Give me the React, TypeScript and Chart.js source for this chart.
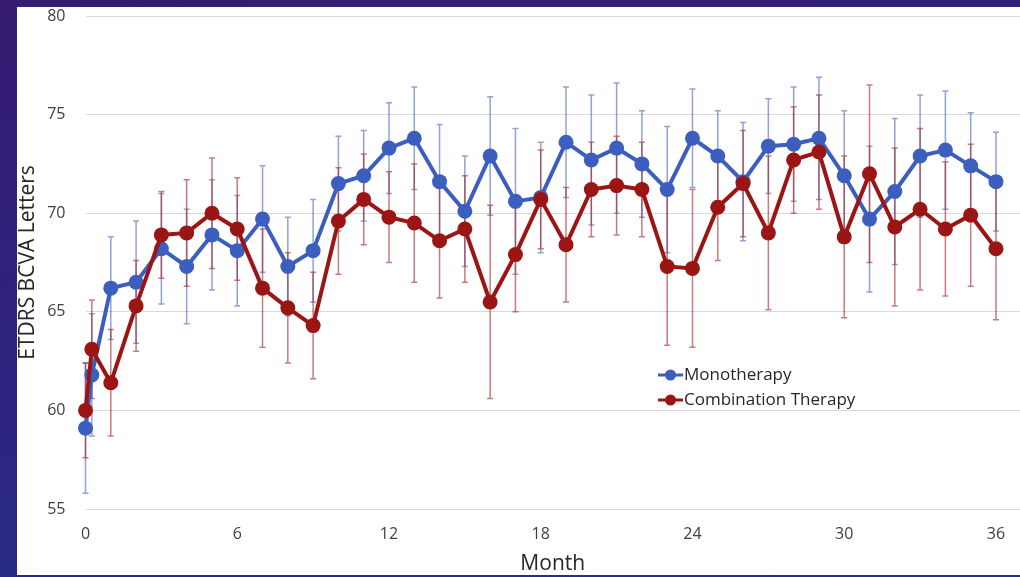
import React, { useEffect, useRef } from "react";
import { Chart, registerables } from "chart.js";

Chart.register(...registerables);

const months = [0, 0.25, 1, 2, 3, 4, 5, 6, 7, 8, 9, 10, 11, 12, 13, 14, 15, 16, 17, 18, 19, 20, 21, 22, 23, 24, 25, 26, 27, 28, 29, 30, 31, 32, 33, 34, 35, 36];

const monotherapy = [59.1, 61.8, 66.2, 66.5, 68.2, 67.3, 68.9, 68.1, 69.7, 67.3, 68.1, 71.5, 71.9, 73.3, 73.8, 71.6, 70.1, 72.9, 70.6, 70.8, 73.6, 72.7, 73.3, 72.5, 71.2, 73.8, 72.9, 71.6, 73.4, 73.5, 73.8, 71.9, 69.7, 71.1, 72.9, 73.2, 72.4, 71.6];
const monotherapyErr = [3.3, 3.1, 2.6, 3.1, 2.8, 2.9, 2.8, 2.8, 2.7, 2.5, 2.6, 2.4, 2.3, 2.3, 2.6, 2.9, 2.8, 3.0, 3.7, 2.8, 2.8, 3.3, 3.3, 2.7, 3.2, 2.5, 2.3, 3.0, 2.4, 2.9, 3.1, 3.3, 3.7, 3.7, 3.1, 3.0, 2.7, 2.5];

const combination = [60.0, 63.1, 61.4, 65.3, 68.9, 69.0, 70.0, 69.2, 66.2, 65.2, 64.3, 69.6, 70.7, 69.8, 69.5, 68.6, 69.2, 65.5, 67.9, 70.7, 68.4, 71.2, 71.4, 71.2, 67.3, 67.2, 70.3, 71.5, 69.0, 72.7, 73.1, 68.8, 72.0, 69.3, 70.2, 69.2, 69.9, 68.2];
const combinationErr = [2.4, 2.5, 2.7, 2.3, 2.2, 2.7, 2.8, 2.6, 3.0, 2.8, 2.7, 2.7, 2.3, 2.3, 3.0, 2.9, 2.7, 4.9, 2.9, 2.5, 2.9, 2.4, 2.5, 2.4, 4.0, 4.0, 2.7, 2.7, 3.9, 2.7, 2.9, 4.1, 4.5, 4.0, 4.1, 3.4, 3.6, 3.6];

const xTicks = [0, 6, 12, 18, 24, 30, 36];
const yTicks = [55, 60, 65, 70, 75, 80];

const seriesNames = ["Monotherapy", "Combination Therapy"];
const BLUE = "#3c5ebf";
const RED = "#9c1515";
const BLUE_ERR = "rgba(70,100,190,0.6)";
const RED_ERR = "rgba(165,35,35,0.6)";
const FONT = "'Open Sans', 'DejaVu Sans', sans-serif";

const errorBarPlugin = {
  id: "errorBars",
  beforeDatasetsDraw(chart: any) {
    const { ctx, scales } = chart;
    const x = scales.x;
    const y = scales.y;
    const sets = [
      { vals: monotherapy, errs: monotherapyErr, color: BLUE_ERR },
      { vals: combination, errs: combinationErr, color: RED_ERR },
    ];
    ctx.save();
    sets.forEach((s) => {
      ctx.strokeStyle = s.color;
      ctx.lineWidth = 1.5;
      s.vals.forEach((v, i) => {
        const px = x.getPixelForValue(months[i]);
        const top = y.getPixelForValue(v + s.errs[i]);
        const bot = y.getPixelForValue(v - s.errs[i]);
        ctx.beginPath();
        ctx.moveTo(px, top);
        ctx.lineTo(px, bot);
        ctx.moveTo(px - 3, top);
        ctx.lineTo(px + 3, top);
        ctx.moveTo(px - 3, bot);
        ctx.lineTo(px + 3, bot);
        ctx.stroke();
      });
    });
    ctx.restore();
  },
};

const legendPlugin = {
  id: "innerLegend",
  afterDraw(chart: any) {
    const { ctx } = chart;
    const colors = [BLUE, RED];
    ctx.save();
    seriesNames.forEach((name, i) => {
      const cy = 375 + i * 25;
      ctx.strokeStyle = colors[i];
      ctx.lineWidth = 3;
      ctx.beginPath();
      ctx.moveTo(658, cy);
      ctx.lineTo(683, cy);
      ctx.stroke();
      ctx.fillStyle = colors[i];
      ctx.beginPath();
      ctx.arc(670.5, cy, 5.5, 0, Math.PI * 2);
      ctx.fill();
      ctx.fillStyle = "#262626";
      ctx.font = `17px ${FONT}`;
      ctx.textBaseline = "middle";
      ctx.textAlign = "left";
      ctx.fillText(name, 684, cy);
    });
    ctx.restore();
  },
};

export default function App() {
  const ref = useRef<HTMLCanvasElement | null>(null);

  useEffect(() => {
    document.body.style.margin = "0";
    if (!ref.current) return;
    const chart = new Chart(ref.current, {
      type: "line",
      data: {
        datasets: [
          {
            label: seriesNames[0],
            data: months.map((m, i) => ({ x: m, y: monotherapy[i] })),
            borderColor: BLUE,
            backgroundColor: BLUE,
            borderWidth: 4,
            pointRadius: 7.5,
            pointBorderWidth: 0,
            pointBackgroundColor: BLUE,
            tension: 0,
            clip: false,
            order: 1,
          },
          {
            label: seriesNames[1],
            data: months.map((m, i) => ({ x: m, y: combination[i] })),
            borderColor: RED,
            backgroundColor: RED,
            borderWidth: 4,
            pointRadius: 7.5,
            pointBorderWidth: 0,
            pointBackgroundColor: RED,
            tension: 0,
            clip: false,
            order: 0,
          },
        ],
      },
      options: {
        responsive: false,
        animation: false,
        layout: { autoPadding: false, padding: { top: 16, right: 0, bottom: 0, left: 0 } },
        plugins: {
          legend: { display: false },
          tooltip: { enabled: false },
        },
        scales: {
          x: {
            type: "linear",
            min: 0,
            max: 36.95,
            afterBuildTicks: (scale: any) => {
              scale.ticks = xTicks.map((v) => ({ value: v }));
            },
            afterFit: (scale: any) => {
              scale.height = 68;
              scale.paddingLeft = 0;
              scale.paddingRight = 0;
            },
            grid: { display: false, drawTicks: false },
            border: { display: false },
            ticks: {
              padding: 16,
              color: "#404040",
              font: { family: FONT, size: 16 },
              maxRotation: 0,
            },
            title: {
              display: true,
              text: "Month",
              color: "#262626",
              font: { family: FONT, size: 21 },
              padding: { top: 0, bottom: 0 },
            },
          },
          y: {
            min: 55,
            max: 80,
            afterBuildTicks: (scale: any) => {
              scale.ticks = yTicks.map((v) => ({ value: v }));
            },
            afterFit: (scale: any) => {
              scale.width = 85.5;
              scale.paddingTop = 0;
              scale.paddingBottom = 0;
            },
            grid: { color: "#d9d9d9", lineWidth: 1, drawTicks: false },
            border: { display: false },
            ticks: {
              padding: 20,
              color: "#404040",
              font: { family: FONT, size: 16 },
            },
            title: {
              display: true,
              text: "ETDRS BCVA Letters",
              color: "#262626",
              font: { family: FONT, size: 21 },
              padding: { top: 15, bottom: 0 },
            },
          },
        },
      },
      plugins: [errorBarPlugin, legendPlugin],
    } as any);
    return () => chart.destroy();
  }, []);

  return (
    <div
      style={{
        position: "relative",
        width: 1020,
        height: 577,
        overflow: "hidden",
        background: "linear-gradient(170deg, #361c72 0%, #2d2580 55%, #23308a 100%)",
      }}
    >
      <div
        style={{
          position: "absolute",
          left: 17,
          top: 7,
          width: 1003,
          height: 568,
          background: "#ffffff",
        }}
      />
      <div style={{ position: "absolute", left: 0, top: 0, width: 1020, height: 577 }}>
        <canvas ref={ref} width={1020} height={577} style={{ display: "block" }} />
      </div>
    </div>
  );
}
